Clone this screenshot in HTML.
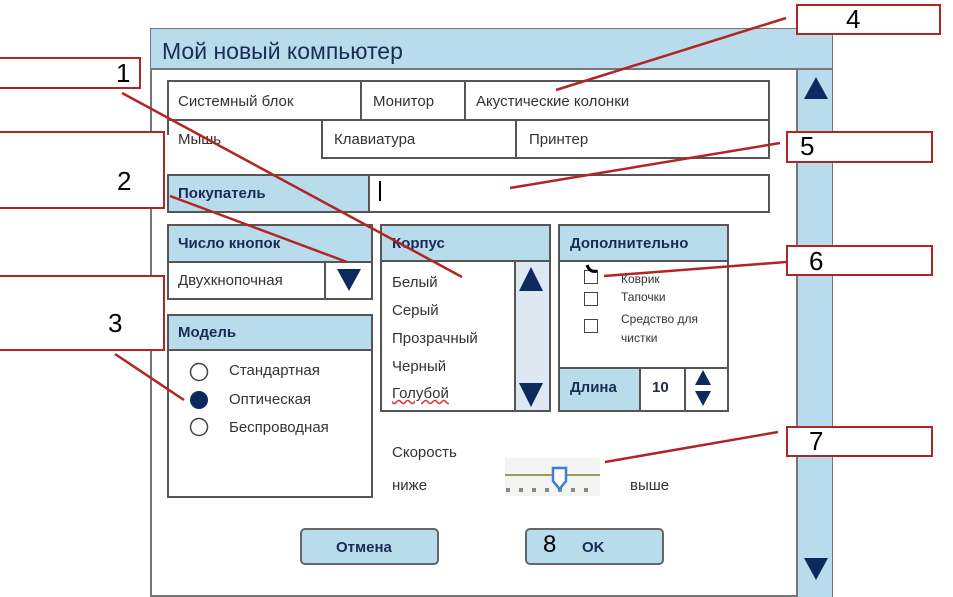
<!DOCTYPE html>
<html><head><meta charset="utf-8"><style>
body{margin:0;width:953px;height:597px;background:#fff;position:relative;overflow:hidden;font-family:"Liberation Sans","DejaVu Sans",sans-serif;}
.a{position:absolute;box-sizing:border-box;}
.b{border:2px solid #555;}
.blue{background:#b8dcec;}
.t{position:absolute;font-size:15px;color:#333;white-space:nowrap;}
.h{position:absolute;font-size:15px;font-weight:bold;color:#1a2c55;white-space:nowrap;}
.r{position:absolute;box-sizing:border-box;border:2px solid #b02525;background:#fff;}
.n{position:absolute;font-size:26px;color:#000;}
</style></head><body>
<div class="a" style="left:150px;top:28px;width:683px;height:569px;border:2px solid #777;"></div>
<div class="a blue" style="left:151px;top:29px;width:681px;height:41px;border-bottom:2px solid #777;"></div>
<div class="t" style="left:162px;top:38px;font-size:23px;color:#1a2c55;">Мой новый компьютер</div>
<div class="a blue" style="left:796px;top:70px;width:36px;height:527px;border-left:2px solid #777;"></div>
<svg class="a" style="left:803px;top:75px" width="26" height="26"><polygon points="13,2 25,24 1,24" fill="#0d2a5e"/></svg>
<svg class="a" style="left:803px;top:556px" width="26" height="26"><polygon points="1,2 25,2 13,24" fill="#0d2a5e"/></svg>
<div class="a b" style="left:167px;top:80px;width:603px;height:41px;"></div>
<div class="a" style="left:360px;top:80px;width:2px;height:40px;background:#555"></div>
<div class="a" style="left:464px;top:80px;width:2px;height:40px;background:#555"></div>
<div class="t" style="left:178px;top:93px">Системный блок</div>
<div class="t" style="left:373px;top:93px">Монитор</div>
<div class="t" style="left:476px;top:93px">Акустические колонки</div>
<div class="a" style="left:321px;top:119px;width:449px;height:40px;border:2px solid #555;border-top:none;"></div>
<div class="a" style="left:515px;top:119px;width:2px;height:39px;background:#555"></div>
<div class="a" style="left:167px;top:119px;width:2px;height:16px;background:#555"></div>
<div class="t" style="left:178px;top:131px">Мышь</div>
<div class="t" style="left:334px;top:131px">Клавиатура</div>
<div class="t" style="left:529px;top:131px">Принтер</div>
<div class="a b blue" style="left:167px;top:174px;width:203px;height:39px;"></div>
<div class="h" style="left:178px;top:185px">Покупатель</div>
<div class="a b" style="left:368px;top:174px;width:402px;height:39px;"></div>
<div class="a" style="left:379px;top:181px;width:2px;height:20px;background:#000"></div>
<div class="a b blue" style="left:167px;top:224px;width:206px;height:39px;"></div>
<div class="h" style="left:178px;top:235px">Число кнопок</div>
<div class="a b" style="left:167px;top:261px;width:206px;height:39px;"></div>
<div class="a" style="left:324px;top:261px;width:2px;height:38px;background:#555"></div>
<div class="t" style="left:178px;top:272px">Двухкнопочная</div>
<svg class="a" style="left:336px;top:267px" width="26" height="26"><polygon points="1,2 25,2 13,24" fill="#0d2a5e"/></svg>
<div class="a b" style="left:167px;top:314px;width:206px;height:184px;"></div>
<div class="a blue" style="left:169px;top:316px;width:202px;height:35px;border-bottom:2px solid #555;"></div>
<div class="h" style="left:178px;top:324px">Модель</div>
<svg class="a" style="left:188px;top:362px" width="24" height="78">
<circle cx="11" cy="10" r="8.5" fill="#fff" stroke="#444" stroke-width="1.5"/>
<circle cx="11" cy="38" r="9" fill="#0d2a5e"/>
<circle cx="11" cy="65" r="8.5" fill="#fff" stroke="#444" stroke-width="1.5"/></svg>
<div class="t" style="left:229px;top:362px">Стандартная</div>
<div class="t" style="left:229px;top:391px">Оптическая</div>
<div class="t" style="left:229px;top:419px">Беспроводная</div>
<div class="a b" style="left:380px;top:224px;width:171px;height:188px;"></div>
<div class="a blue" style="left:382px;top:226px;width:167px;height:36px;border-bottom:2px solid #555;"></div>
<div class="h" style="left:392px;top:235px">Корпус</div>
<div class="a" style="left:514px;top:262px;width:35px;height:148px;background:#dde8f3;border-left:2px solid #555;"></div>
<svg class="a" style="left:518px;top:265px" width="26" height="28"><polygon points="13,2 25,26 1,26" fill="#0d2a5e"/></svg>
<svg class="a" style="left:518px;top:381px" width="26" height="28"><polygon points="1,2 25,2 13,26" fill="#0d2a5e"/></svg>
<div class="t" style="left:392px;top:274px">Белый</div>
<div class="t" style="left:392px;top:302px">Серый</div>
<div class="t" style="left:392px;top:330px">Прозрачный</div>
<div class="t" style="left:392px;top:358px">Черный</div>
<div class="t" style="left:392px;top:385px;text-decoration:underline wavy #d33;">Голубой</div>
<div class="a b" style="left:558px;top:224px;width:171px;height:188px;"></div>
<div class="a blue" style="left:560px;top:226px;width:167px;height:36px;border-bottom:2px solid #555;"></div>
<div class="h" style="left:570px;top:235px">Дополнительно</div>
<div class="a" style="left:584px;top:270px;width:14px;height:14px;border:1.5px solid #444;"></div>
<div class="a" style="left:584px;top:292px;width:14px;height:14px;border:1.5px solid #444;"></div>
<div class="a" style="left:584px;top:319px;width:14px;height:14px;border:1.5px solid #444;"></div>
<div class="t" style="left:621px;top:272px;font-size:12px">Коврик</div>
<div class="t" style="left:621px;top:290px;font-size:12px">Тапочки</div>
<div class="t" style="left:621px;top:310px;font-size:12px;line-height:19px">Средство для<br>чистки</div>
<div class="a blue" style="left:560px;top:367px;width:81px;height:43px;border-top:2px solid #555;border-right:2px solid #555;"></div>
<div class="a" style="left:641px;top:367px;width:86px;height:2px;background:#555"></div>
<div class="a" style="left:684px;top:368px;width:2px;height:42px;background:#555"></div>
<div class="h" style="left:570px;top:379px">Длина</div>
<div class="h" style="left:652px;top:379px">10</div>
<svg class="a" style="left:693px;top:369px" width="20" height="40"><polygon points="10,1 18,16 2,16" fill="#0d2a5e"/><polygon points="2,22 18,22 10,37" fill="#0d2a5e"/></svg>
<div class="t" style="left:392px;top:444px">Скорость</div>
<div class="t" style="left:392px;top:477px">ниже</div>
<div class="t" style="left:630px;top:477px">выше</div>
<div class="a" style="left:505px;top:458px;width:95px;height:38px;background:#f3f4f2"></div>
<div class="a" style="left:505px;top:474px;width:95px;height:2px;background:#9a9a60"></div>
<svg class="a" style="left:505px;top:488px" width="95" height="6"><g fill="#888"><rect x="1" y="0" width="4" height="4"/><rect x="14" y="0" width="4" height="4"/><rect x="27" y="0" width="4" height="4"/><rect x="40" y="0" width="4" height="4"/><rect x="53" y="0" width="4" height="4"/><rect x="66" y="0" width="4" height="4"/><rect x="79" y="0" width="4" height="4"/></g></svg>
<svg class="a" style="left:551px;top:466px" width="18" height="26"><path d="M2,2 H15 V15 L8.5,23 L2,15 Z" fill="#fff" stroke="#3b7fd6" stroke-width="2.5"/></svg>
<div class="a blue" style="left:300px;top:528px;width:139px;height:37px;border:2px solid #666;border-radius:5px;"></div>
<div class="h" style="left:336px;top:539px">Отмена</div>
<div class="a blue" style="left:525px;top:528px;width:139px;height:37px;border:2px solid #666;border-radius:5px;"></div>
<div class="h" style="left:582px;top:539px">OK</div>
<div class="n" style="left:543px;top:531px;font-size:24px">8</div>
<div class="r" style="left:-3px;top:57px;width:144px;height:32px;"></div>
<div class="n" style="left:116px;top:58px">1</div>
<div class="r" style="left:-3px;top:131px;width:168px;height:78px;"></div>
<div class="n" style="left:117px;top:166px">2</div>
<div class="r" style="left:-3px;top:275px;width:168px;height:76px;"></div>
<div class="n" style="left:108px;top:308px">3</div>
<div class="r" style="left:796px;top:4px;width:145px;height:31px;"></div>
<div class="n" style="left:846px;top:4px">4</div>
<div class="r" style="left:786px;top:131px;width:147px;height:32px;"></div>
<div class="n" style="left:800px;top:131px">5</div>
<div class="r" style="left:786px;top:245px;width:147px;height:31px;"></div>
<div class="n" style="left:809px;top:246px">6</div>
<div class="r" style="left:786px;top:426px;width:147px;height:31px;"></div>
<div class="n" style="left:809px;top:426px">7</div>
<svg class="a" style="left:0;top:0" width="953" height="597">
<g stroke="#b02525" stroke-width="2.5" fill="none">
<line x1="122" y1="93" x2="462" y2="277"/>
<line x1="170" y1="196" x2="347" y2="262"/>
<line x1="115" y1="354" x2="184" y2="400"/>
<line x1="786" y1="18" x2="556" y2="90"/>
<line x1="780" y1="143" x2="510" y2="188"/>
<line x1="786" y1="262" x2="604" y2="276"/>
<line x1="778" y1="432" x2="605" y2="462"/>
</g>
<path d="M587,265 q3,8 10,6" stroke="#000" stroke-width="3" fill="none"/>
</svg>
</body></html>
